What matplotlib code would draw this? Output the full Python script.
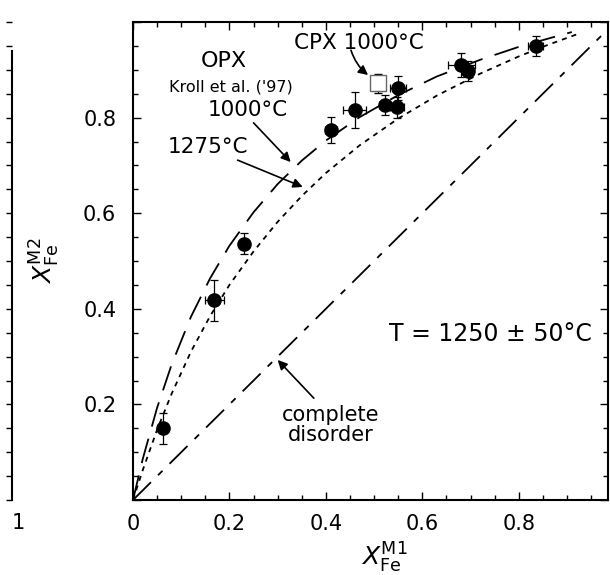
import numpy as np
import matplotlib
matplotlib.use("Agg")
import matplotlib.pyplot as plt
from matplotlib.ticker import MultipleLocator, FixedLocator, FixedFormatter

plt.rcParams['font.family'] = ['DejaVu Sans']
plt.rcParams['mathtext.fontset'] = 'dejavusans'

# measured site occupancies (M1, M2) with errors
x_m1 = [0.062, 0.169, 0.231, 0.410, 0.460, 0.523, 0.548, 0.550, 0.681, 0.694, 0.835]
y_m2 = [0.150, 0.418, 0.536, 0.774, 0.816, 0.826, 0.822, 0.862, 0.910, 0.897, 0.950]
x_err = [0.008, 0.019, 0.008, 0.012, 0.024, 0.013, 0.015, 0.017, 0.028, 0.012, 0.015]
y_err = [0.033, 0.043, 0.022, 0.028, 0.038, 0.021, 0.022, 0.025, 0.025, 0.021, 0.021]

# CPX 1000C point
cpx_x = [0.508]
cpx_y = [0.872]
cpx_xerr = [0.01]
cpx_yerr = [0.02]

# OPX curves, Kroll et al. ('97)
opx1000_x = [0, 0.02, 0.05, 0.08, 0.12, 0.16, 0.2, 0.25, 0.3, 0.35, 0.4, 0.47, 0.55, 0.63, 0.72, 0.8, 0.86, 0.91]
opx1000_y = [0, 0.085, 0.193, 0.283, 0.383, 0.464, 0.532, 0.602, 0.661, 0.710, 0.752, 0.801, 0.847, 0.886, 0.921, 0.948, 0.965, 0.979]
opx1275_x = [0, 0.02, 0.05, 0.08, 0.12, 0.16, 0.2, 0.25, 0.3, 0.35, 0.4, 0.47, 0.55, 0.63, 0.72, 0.8, 0.86, 0.92]
opx1275_y = [0, 0.062, 0.147, 0.222, 0.310, 0.385, 0.450, 0.520, 0.582, 0.636, 0.684, 0.742, 0.798, 0.846, 0.892, 0.928, 0.952, 0.974]

# complete disorder line
dis_x = [0, 0.99]
dis_y = [0, 0.99]

fig = plt.figure(figsize=(6.1, 5.75), dpi=100)
ax = fig.add_axes([133/610, 1 - 500/575, 475/610, 478/575])

ax.plot(opx1000_x, opx1000_y, color='k', lw=1.3, ls=(0, (14, 7)))
ax.plot(opx1275_x, opx1275_y, color='k', lw=1.3, ls=(0, (2.8, 2.8)))
ax.plot(dis_x, dis_y, color='k', lw=1.3, ls=(0, (14, 5.5, 3.5, 5.5)))

ax.errorbar(x_m1, y_m2, xerr=x_err, yerr=y_err, fmt='o', color='k', ms=9.5,
            elinewidth=0.9, capsize=3, capthick=0.9, zorder=5)
ax.errorbar(cpx_x, cpx_y, xerr=cpx_xerr, yerr=cpx_yerr, fmt='s', mfc='white',
            mec='#666666', mew=1, ms=12, ecolor='k', elinewidth=0.8,
            capsize=3, capthick=0.8, zorder=4)

ax.set_xlim(0, 0.985)
ax.set_ylim(0, 1)

ax.xaxis.set_major_locator(FixedLocator([0, 0.2, 0.4, 0.6, 0.8]))
ax.xaxis.set_major_formatter(FixedFormatter(['0', '0.2', '0.4', '0.6', '0.8']))
ax.yaxis.set_major_locator(FixedLocator([0, 0.2, 0.4, 0.6, 0.8, 1.0]))
ax.yaxis.set_major_formatter(FixedFormatter(['', '0.2', '0.4', '0.6', '0.8', '']))
ax.xaxis.set_minor_locator(MultipleLocator(0.05))
ax.yaxis.set_minor_locator(MultipleLocator(0.05))
ax.tick_params(which='both', direction='in', top=True, right=True, width=1)
ax.tick_params(which='major', length=6, labelsize=15)
ax.tick_params(axis='x', which='major', pad=10)
ax.tick_params(axis='y', which='major', pad=12)
ax.tick_params(which='minor', length=3.5)
for s in ax.spines.values():
    s.set_linewidth(1.5)

ax.set_xlabel(r'$X_{\mathrm{Fe}}^{\mathrm{M1}}$', fontsize=18)
ax.xaxis.set_label_coords(0.53, -0.085)
ax.set_ylabel(r'$X_{\mathrm{Fe}}^{\mathrm{M2}}$', fontsize=18)
ax.yaxis.set_label_coords(-0.15, 0.5)

ax.text(0.1875, 0.918, 'OPX', fontsize=16, ha='center', va='center')
ax.text(0.202, 0.864, "Kroll et al. ('97)", fontsize=11.5, ha='center', va='center')
ax.text(0.2375, 0.816, '1000°C', fontsize=15.5, ha='center', va='center')
ax.text(0.156, 0.739, '1275°C', fontsize=15.5, ha='center', va='center')
ax.text(0.469, 0.956, 'CPX 1000°C', fontsize=15.5, ha='center', va='center')
ax.text(0.742, 0.347, 'T = 1250 ± 50°C', fontsize=17, ha='center', va='center')
ax.text(0.41, 0.157, 'complete\ndisorder', fontsize=15, ha='center', va='center',
        linespacing=0.95)

arw = dict(arrowstyle='-|>', lw=1.2, color='k', mutation_scale=14,
           shrinkA=0, shrinkB=0)
ax.annotate('', xy=(0.327, 0.707), xytext=(0.25, 0.789), arrowprops=arw)
ax.annotate('', xy=(0.352, 0.655), xytext=(0.217, 0.711), arrowprops=arw)
ax.annotate('', xy=(0.4875, 0.889), xytext=(0.452, 0.941),
            arrowprops=dict(arw, connectionstyle='arc3,rad=0.15'))
ax.annotate('', xy=(0.30, 0.293), xytext=(0.375, 0.213), arrowprops=arw)

# edge of neighbouring panel visible on the left of the scan
ax2 = fig.add_axes([-0.1, 1 - 500/575, 0.1 + 12/610, 478/575])
ax2.set_xlim(0, 1)
ax2.set_ylim(0, 1)
for k in ['left', 'top', 'bottom']:
    ax2.spines[k].set_visible(False)
ax2.spines['right'].set_linewidth(1.5)
ax2.spines['right'].set_bounds(0, 0.94)
ax2.set_xticks([])
ax2.yaxis.tick_right()
ax2.yaxis.set_major_locator(MultipleLocator(0.05))
ax2.tick_params(axis='y', direction='in', length=4, width=1, labelright=False)
ax2.patch.set_visible(False)
fig.text(18/610, 1 - 523/575, '1', fontsize=15, ha='center', va='center')

fig.savefig('out.png', dpi=100)
